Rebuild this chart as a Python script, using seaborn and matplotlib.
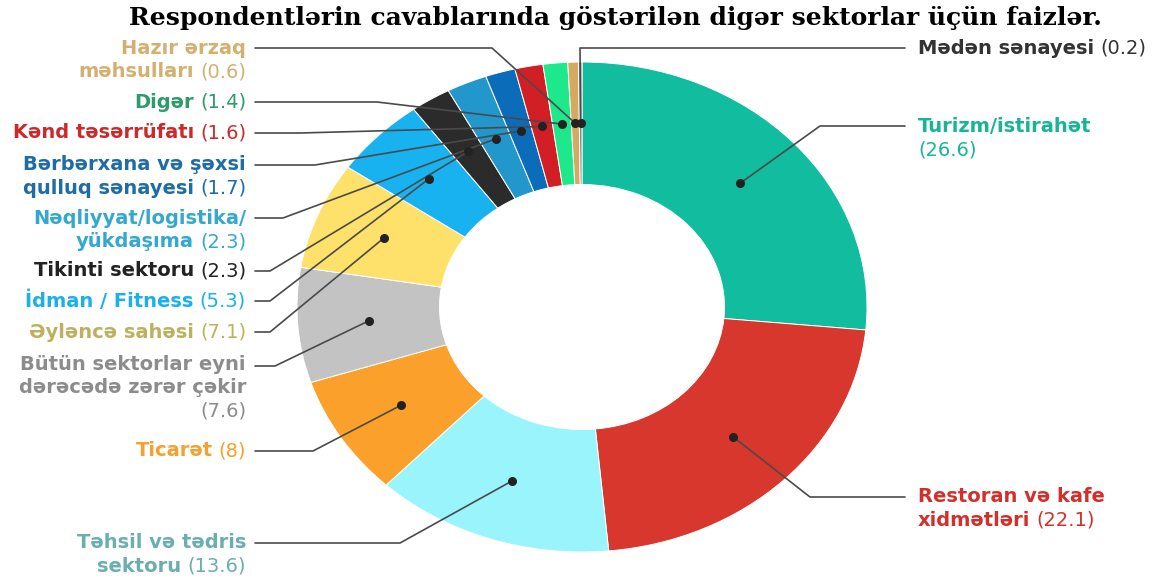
import numpy as np
import pandas as pd
import seaborn as sns
import matplotlib.pyplot as plt

sns.set_theme(style="white")
plt.rcParams['font.family'] = ['DejaVu Sans']

sectors = ["Turizm/istirahət\n", "Restoran və kafe\nxidmətləri", "Təhsil və tədris\nsektoru",
           "Ticarət", "Bütün sektorlar eyni\ndərəcədə zərər çəkir\n", "Əyləncə sahəsi",
           "İdman / Fitness", "Tikinti sektoru", "Nəqliyyat/logistika/\nyükdaşıma",
           "Bərbərxana və şəxsi\nqulluq sənayesi", "Kənd təsərrüfatı", "Digər",
           "Hazır ərzaq\nməhsulları", "Mədən sənayesi"]
shares = [26.6, 22.1, 13.6, 8, 7.6, 7.1, 5.3, 2.3, 2.3, 1.7, 1.6, 1.4, 0.6, 0.2]
slice_colors = ["#12bc9e", "#d7372d", "#99f4fc", "#fba02a", "#c3c3c3", "#fde16a", "#18b2f0",
                "#2b2b2b", "#2197cc", "#0b6dba", "#d21f25", "#1de88c", "#d4a960", "#8a8a8a"]
text_colors = ["#17b596", "#d3302b", "#6aaeae", "#f5a030", "#8c8c8c", "#bfb060", "#1ab0ea",
               "#222222", "#35a8d0", "#1e6ca8", "#cc2a2a", "#2a9d6a", "#d4b070", "#333333"]

df = pd.DataFrame({"sector": sectors, "share": shares,
                   "color": slice_colors, "tcolor": text_colors})

# label layout in pixels: side, first line y, elbow x, elbow y
layout = [("R", 126, 820, 126), ("R", 497, 810, 497), ("L", 543, 400, 543),
          ("L", 451, 313, 451), ("L", 364, 275, 366), ("L", 332, 270, 332),
          ("L", 301, 270, 301), ("L", 271, 270, 271), ("L", 218, 283, 218),
          ("L", 165, 315, 165), ("L", 133, 300, 133), ("L", 102, 377, 102),
          ("L", 48, 492, 48), ("R", 48, 580, 48)]

W, H = 1161, 581
fig = plt.figure(figsize=(W / 100, H / 100), dpi=100)
ax = fig.add_axes([0, 0, 1, 1])
wedges, _ = ax.pie(df["share"], colors=df["color"], startangle=90, counterclock=False,
                   radius=1, wedgeprops=dict(width=0.5, edgecolor="white", linewidth=0.7))
ax.set_aspect("auto")
cx, cy, rx, ry = 582, 307, 285, 245
ax.set_xlim(-cx / rx, (W - cx) / rx)
ax.set_ylim((cy - H) / ry, cy / ry)
ax.axis("off")

ov = fig.add_axes([0, 0, 1, 1], facecolor="none")
ov.set_xlim(0, W)
ov.set_ylim(H, 0)
ov.axis("off")

renderer = fig.canvas.get_renderer()
fs = 14
lh = 23.5

for (i, row), (side, y0, ex, ey) in zip(df.iterrows(), layout):
    w = wedges[i]
    mid = np.deg2rad((w.theta1 + w.theta2) / 2)
    dot = ax.transData.transform((0.75 * np.cos(mid), 0.75 * np.sin(mid)))
    px, py = ov.transData.inverted().transform(dot)
    if side == "L":
        x0 = 255
        tx = 246
    else:
        x0 = 905
        tx = 918
    ov.plot([x0, ex, px], [ey, ey, py], color="#4a4a4a", lw=1.2, zorder=3)
    ov.plot(px, py, "o", color="#222222", ms=5.5, zorder=4)

    lines = row["sector"].split("\n")
    val = f"({row['share']:g})"
    for k, ln in enumerate(lines):
        y = y0 + k * lh
        last = k == len(lines) - 1
        if side == "L":
            if last:
                t = ov.text(tx, y, val, ha="right", va="center", fontsize=fs,
                            color=row["tcolor"])
                vw = t.get_window_extent(renderer).width
                if ln:
                    ov.text(tx - vw - 6, y, ln, ha="right", va="center", fontsize=fs,
                            fontweight="bold", color=row["tcolor"])
            else:
                ov.text(tx, y, ln, ha="right", va="center", fontsize=fs,
                        fontweight="bold", color=row["tcolor"])
        else:
            if ln:
                t = ov.text(tx, y, ln, ha="left", va="center", fontsize=fs,
                            fontweight="bold", color=row["tcolor"])
                nw = t.get_window_extent(renderer).width + 6
            else:
                nw = 0
            if last:
                ov.text(tx + nw, y, val, ha="left", va="center", fontsize=fs,
                        color=row["tcolor"])

fig.text(615 / W, 1 - 18 / H, "Respondentlərin cavablarında göstərilən digər sektorlar üçün faizlər.",
         ha="center", va="center", fontsize=18, fontweight="bold",
         family=["DejaVu Serif"], color="black")

fig.savefig("out.png", dpi=100, facecolor="white")
